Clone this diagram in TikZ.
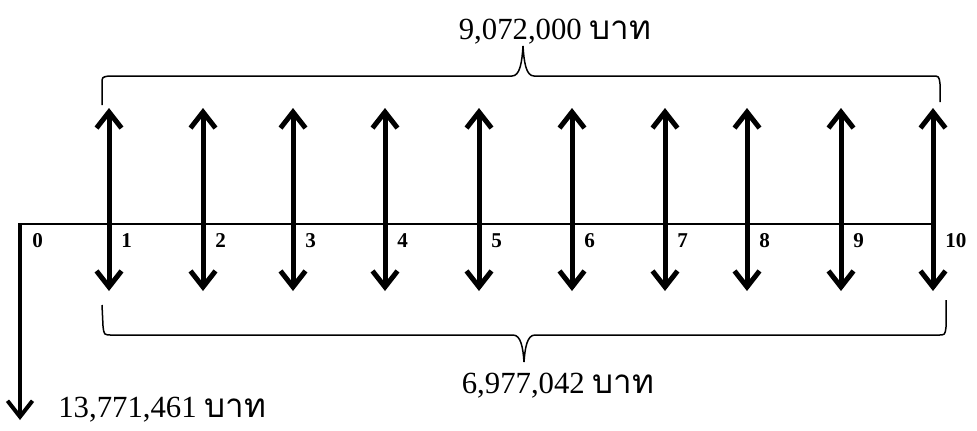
\documentclass[tikz,border=0pt]{standalone}
\usepackage{fontspec}
\setmainfont{Liberation Serif}
\newfontfamily\thaifont[Script=Thai,Scale=1.08]{Loma}
\usetikzlibrary{
  arrows.meta,
  positioning,
  calc
}
\newcommand{\baht}{{\thaifont บาท}}

\begin{document}
\begin{tikzpicture}[
        x=0.2mm, y=-0.2mm,
        linhatempo/.style={line width=0.4mm},
        fluxo/.style={line width=1mm,
            {Straight Barb[length=3.2mm,width=5mm]}-{Straight Barb[length=3.2mm,width=5mm]}},
        saida/.style={line width=0.8mm, -{Straight Barb[length=3.2mm,width=5mm]}},
        chave/.style={line width=0.3mm},
        periodo/.style={font=\fontsize{12}{14}\selectfont\bfseries, anchor=west, inner sep=0pt},
        valor/.style={font=\fontsize{17.5}{20}\selectfont, anchor=base, inner sep=0pt}
    ]
        \useasboundingbox (0,0) rectangle (977,430);

        % Linha do tempo
        \coordinate (inicio) at (18,224);
        \coordinate (fim) at (933,224);
        \draw[linhatempo] (inicio) -- (fim);

        % Investimento no ano 0
        \coordinate (t0) at (20,224);
        \coordinate (s0) at (20,420);
        \draw[saida] (t0) -- (s0);
        \node[periodo] (p0) at (32,241) {0};
        \node[valor, anchor=base west] (investimento) at (58,417) {13,771,461 \baht};

        % Fluxos dos anos 1 a 10
        \foreach \i/\x in {1/109,2/203,3/293,4/385,5/479,6/572,7/665,8/747,9/841,10/933} {
            \coordinate (cima\i) at (\x,108);
            \coordinate (baixo\i) at (\x,291);
            \draw[fluxo] (cima\i) -- (baixo\i);
            \node[periodo] (p\i) at (\x+12,241) {\i};
        }

        % Chave superior
        \draw[chave] (102,105) -- (102,84) .. controls (102,77) .. (109,76)
            -- (512,76) .. controls (520,76) and (522,62) .. (523,46)
            .. controls (524,62) and (526,76) .. (534,76)
            -- (932,76) .. controls (939,76) .. (940,84) -- (940,102);
        \node[valor] (receita) at (555,39) {9,072,000 \baht};

        % Chave inferior
        \draw[chave] (102,305) -- (103,326) .. controls (104,335) .. (112,335)
            -- (513,335) .. controls (521,335) and (523,348) .. (524,362)
            .. controls (525,348) and (527,335) .. (535,335)
            -- (938,335) .. controls (945,335) .. (946,327) -- (946,300);
        \node[valor] (custo) at (558,393) {6,977,042 \baht};
    \end{tikzpicture}
\end{document}
